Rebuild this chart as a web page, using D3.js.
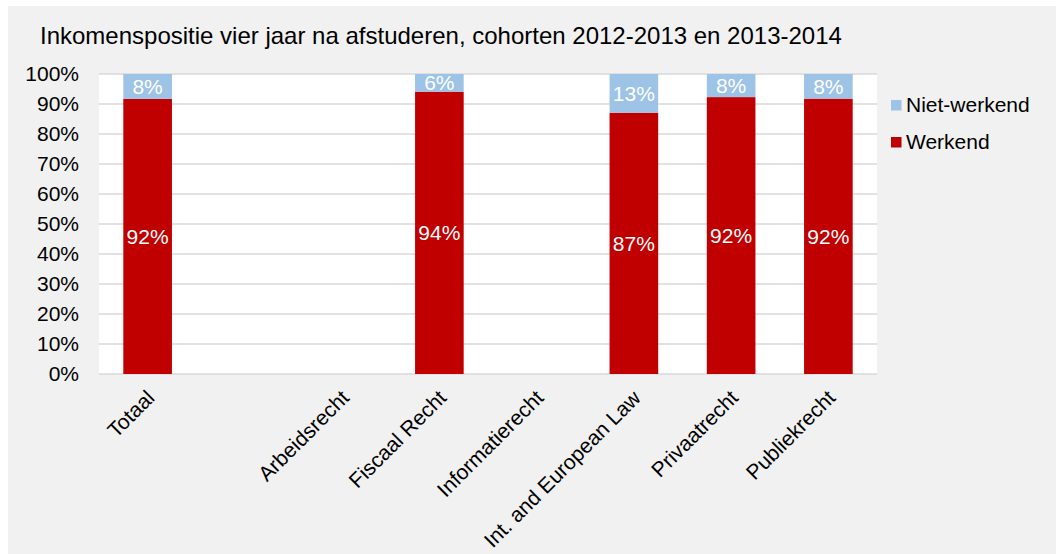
<!DOCTYPE html>
<html><head><meta charset="utf-8">
<script src="https://cdn.jsdelivr.net/npm/d3@7/dist/d3.min.js"></script>
<style>body{margin:0;background:#fff}svg{display:block;font-family:"Liberation Sans",Arial,sans-serif}</style>
</head><body><svg id="c" width="1056" height="554"></svg>
<script>
const categories = ["Totaal", "", "Arbeidsrecht", "Fiscaal Recht", "Informatierecht", "Int. and European Law", "Privaatrecht", "Publiekrecht"];
const werkend    = [0.917, null, null, 0.941, null, 0.871, 0.923, 0.918];
const nietWerkend= [0.083, null, null, 0.059, null, 0.129, 0.077, 0.082];
const werkendLabels = ["92%", "", "", "94%", "", "87%", "92%", "92%"];
const nietLabels    = ["8%", "", "", "6%", "", "13%", "8%", "8%"];
const yTicks = [0,0.1,0.2,0.3,0.4,0.5,0.6,0.7,0.8,0.9,1.0];
const seriesNames = ["Niet-werkend", "Werkend"];
const colors = {"Werkend":"#c00000","Niet-werkend":"#9dc3e6"};

const FS = 21;
const svg = d3.select("#c");
svg.append("rect").attr("x",8).attr("y",6).attr("width",1048).attr("height",548).attr("fill","#f1f1f1");

const L=99, R=877, T=74, B=374;
svg.append("rect").attr("x",L).attr("y",T).attr("width",R-L).attr("height",B-T).attr("fill","#fff");

const x = d3.scaleBand().domain(d3.range(categories.length)).range([L,R]).paddingInner(0.5).paddingOuter(0.25);
const y = d3.scaleLinear().domain([0,1]).range([B,T]);

svg.append("text").attr("x",40).attr("y",44).attr("font-size",24).attr("fill","#000")
  .text("Inkomenspositie vier jaar na afstuderen, cohorten 2012-2013 en 2013-2014");

// grid
svg.append("g").selectAll("line").data(yTicks).join("line")
  .attr("x1",L).attr("x2",R).attr("y1",d=>y(d)).attr("y2",d=>y(d))
  .attr("stroke","#d9d9d9").attr("stroke-width",1.5);

// y axis labels
const yAxis = d3.axisLeft(y).tickValues(yTicks).tickFormat(d3.format(".0%")).tickSize(0).tickPadding(0);
const ya = svg.append("g").attr("transform",`translate(${L-20},0)`).call(yAxis);
ya.select(".domain").remove();
ya.selectAll("text").attr("font-size",FS).attr("fill","#000").attr("font-family","Liberation Sans, Arial, sans-serif");

// bars
const idx = d3.range(categories.length).filter(i=>werkend[i]!=null);
const g = svg.append("g");
g.selectAll("rect.w").data(idx).join("rect").attr("class","w")
  .attr("x",i=>x(i)).attr("width",x.bandwidth())
  .attr("y",i=>y(werkend[i])).attr("height",i=>y(0)-y(werkend[i]))
  .attr("fill",colors["Werkend"]);
g.selectAll("rect.n").data(idx).join("rect").attr("class","n")
  .attr("x",i=>x(i)).attr("width",x.bandwidth())
  .attr("y",i=>y(werkend[i]+nietWerkend[i])).attr("height",i=>y(werkend[i])-y(werkend[i]+nietWerkend[i]))
  .attr("fill",colors["Niet-werkend"]);
g.selectAll("text.w").data(idx).join("text").attr("class","w")
  .attr("x",i=>x(i)+x.bandwidth()/2).attr("y",i=>(y(0)+y(werkend[i]))/2).attr("dy","0.35em")
  .attr("text-anchor","middle").attr("font-size",FS).attr("fill","#fff").text(i=>werkendLabels[i]);
g.selectAll("text.n").data(idx).join("text").attr("class","n")
  .attr("x",i=>x(i)+x.bandwidth()/2).attr("y",i=>(y(werkend[i])+y(werkend[i]+nietWerkend[i]))/2).attr("dy","0.35em")
  .attr("text-anchor","middle").attr("font-size",FS).attr("fill","#fff").text(i=>nietLabels[i]);

// x labels
svg.append("g").selectAll("text").data(d3.range(categories.length)).join("text")
  .attr("transform",i=>`translate(${x(i)+x.bandwidth()/2+3},394) rotate(-45)`)
  .attr("text-anchor","end").attr("dy","0.35em").attr("font-size",FS).attr("fill","#000")
  .text(i=>categories[i]);

// legend
const lg = svg.append("g");
seriesNames.forEach((s,k)=>{
  const cy = 105 + k*37;
  lg.append("rect").attr("x",891).attr("y",cy-5).attr("width",10.5).attr("height",10.5).attr("fill",colors[s]);
  lg.append("text").attr("x",906).attr("y",cy).attr("dy","0.35em").attr("font-size",FS).attr("fill","#000").text(s);
});
</script></body></html>
